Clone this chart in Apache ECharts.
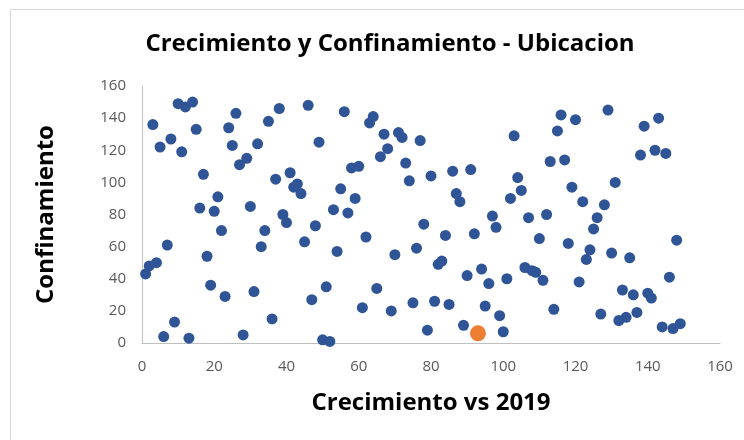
<!DOCTYPE html>
<html>
<head>
<meta charset="utf-8">
<script src="https://cdn.jsdelivr.net/npm/echarts@6/dist/echarts.min.js"></script>
<style>
html,body{margin:0;padding:0;background:#fff;}
#chart{width:744px;height:440px;}
</style>
</head>
<body>
<div id="chart"></div>
<script>
// Crecimiento vs 2019 (x) and Confinamiento (y)
var crecimiento = [1,2,3,4,5,6,7,8,9,10,11,12,13,14,15,16,17,18,19,20,21,22,23,24,25,26,27,28,29,30,31,32,33,34,35,36,37,38,39,40,41,42,43,44,45,46,47,48,49,50,51,52,53,54,55,56,57,58,59,60,61,62,63,64,65,66,67,68,69,70,71,72,73,74,75,76,77,78,79,80,81,82,83,84,85,86,87,88,89,90,91,92,94,95,96,97,98,99,100,101,102,103,104,105,106,107,108,109,110,111,112,113,114,115,116,117,118,119,120,121,122,123,124,125,126,127,128,129,130,131,132,133,134,135,136,137,138,139,140,141,142,143,144,145,146,147,148,149];
var confinamiento = [43,48,136,50,122,4,61,127,13,149,119,147,3,150,133,84,105,54,36,82,91,70,29,134,123,143,111,5,115,85,32,124,60,70,138,15,102,146,80,75,106,97,99,93,63,148,27,73,125,2,35,1,83,57,96,144,81,109,90,110,22,66,137,141,34,116,130,121,20,55,131,128,112,101,25,59,126,74,8,104,26,49,51,67,24,107,93,88,11,42,108,68,46,23,37,79,72,17,7,40,90,129,103,95,47,78,45,44,65,39,80,113,21,132,142,114,62,97,139,38,88,52,58,71,78,18,86,145,56,100,14,33,16,53,30,19,117,135,31,28,120,140,10,118,41,9,64,12];
var ubicacionX = [93];
var ubicacionY = [6];
var axisTicks = [0,20,40,60,80,100,120,140,160];

var pts = crecimiento.map(function(x,i){return [x, confinamiento[i]];});
var hl = ubicacionX.map(function(x,i){return [x, ubicacionY[i]];});

var chart = echarts.init(document.getElementById('chart'), null, {renderer:'canvas'});
var font = 'Open Sans';
chart.setOption({
  backgroundColor:'#ffffff',
  animation:false,
  title:{
    text:'Crecimiento y Confinamiento - Ubicacion',
    left:385, textAlign:'center', top:27,
    textStyle:{fontFamily:font,fontWeight:'bold',fontSize:24,color:'#000'}
  },
  graphic:[{
    type:'rect', shape:{x:10.5,y:9.5,width:800,height:500},
    style:{fill:'none',stroke:'#d9d9d9',lineWidth:1}, silent:true, z:-1
  }],
  grid:{left:142, right:24, top:86, bottom:97},
  xAxis:{
    type:'value', min:axisTicks[0], max:axisTicks[axisTicks.length-1], interval:20,
    name:'Crecimiento vs 2019', nameLocation:'middle', nameGap:48,
    nameTextStyle:{fontFamily:font,fontWeight:'bold',fontSize:24,color:'#000'},
    axisLine:{show:true,lineStyle:{color:'#bfbfbf',width:1}},
    axisTick:{show:false}, splitLine:{show:false},
    axisLabel:{fontFamily:font,fontSize:15,color:'#595959',margin:16}
  },
  yAxis:{
    type:'value', min:axisTicks[0], max:axisTicks[axisTicks.length-1], interval:20,
    name:'Confinamiento', nameLocation:'middle', nameGap:84, nameRotate:90,
    nameTextStyle:{fontFamily:font,fontWeight:'bold',fontSize:24,color:'#000'},
    axisLine:{show:true,lineStyle:{color:'#bfbfbf',width:1}},
    axisTick:{show:false}, splitLine:{show:false},
    axisLabel:{fontFamily:font,fontSize:15,color:'#595959',margin:16}
  },
  series:[
    {type:'scatter', data:pts, symbolSize:11, itemStyle:{color:'#2f5597',opacity:1}},
    {type:'scatter', data:hl, symbolSize:16, itemStyle:{color:'#ed7d31',opacity:1}, z:3}
  ]
});
</script>
</body>
</html>
